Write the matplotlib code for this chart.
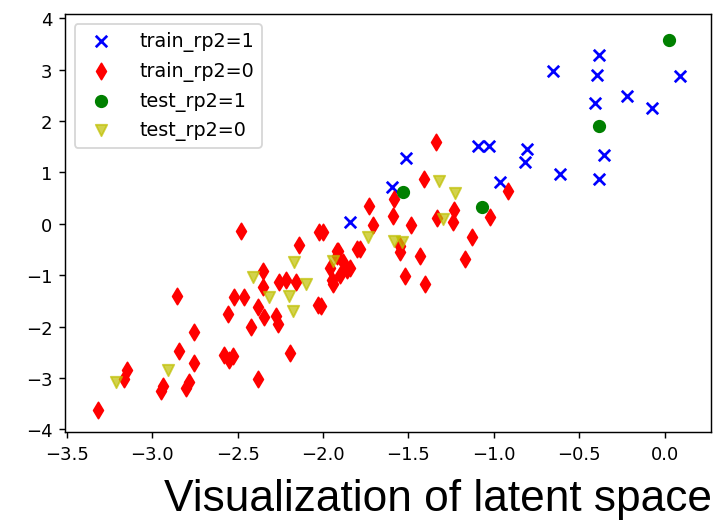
import matplotlib
matplotlib.use("Agg")
import matplotlib.pyplot as plt

# latent coordinates
train1_x = [-0.654, -0.385, -0.397, -0.409, -0.222, -0.076, 0.088, -0.356, -0.385,
            -0.613, -0.806, -0.818, -1.512, -1.09, -1.03, -0.963, -1.84, -1.594]
train1_y = [2.97, 3.28, 2.89, 2.35, 2.49, 2.25, 2.87, 1.34, 0.87,
            0.97, 1.46, 1.20, 1.28, 1.51, 1.51, 0.82, 0.04, 0.72]

train0_x = [-1.337, -1.407, -1.582, -1.728, -1.588, -1.483, -1.705, -1.232, -1.331,
            -1.238, -0.917, -1.022, -1.127, -1.168, -1.43, -2.00, -1.786, -1.91,
            -1.547, -1.518, -1.401, -1.80, -1.92, -1.88, -1.86, -1.90, -1.95,
            -1.84, -1.96, -2.01, -2.481, -2.026, -2.14, -1.915, -2.353, -2.26,
            -2.218, -2.16, -2.353, -1.944, -2.52, -2.464, -2.38, -2.557, -2.347,
            -2.03, -2.277, -2.265, -2.42, -2.755, -2.855, -2.843, -2.755, -2.58,
            -2.528, -2.55, -2.38, -3.146, -3.164, -2.936, -2.948, -2.785, -2.80,
            -3.316, -2.195, -1.547]
train0_y = [1.59, 0.87, 0.49, 0.35, 0.16, -0.02, -0.02, 0.27, 0.12,
            0.04, 0.64, 0.14, -0.25, -0.68, -0.62, -0.16, -0.49, -0.52,
            -0.43, -1.01, -1.17, -0.49, -0.62, -0.75, -0.90, -1.00, -1.10,
            -0.85, -0.85, -1.59, -0.14, -0.16, -0.42, -0.52, -0.91, -1.13,
            -1.10, -1.13, -1.22, -1.17, -1.42, -1.42, -1.61, -1.75, -1.81,
            -1.57, -1.79, -1.94, -2.00, -2.10, -1.40, -2.47, -2.70, -2.56,
            -2.58, -2.64, -3.01, -2.85, -3.01, -3.16, -3.26, -3.07, -3.20,
            -3.63, -2.52, -0.54]

test1_x = [0.023, -0.385, -1.53, -1.068]
test1_y = [3.57, 1.90, 0.62, 0.32]

test0_x = [-1.319, -1.226, -1.30, -1.734, -1.582, -1.535, -1.944, -2.172, -2.41,
           -2.10, -2.318, -2.20, -2.178, -3.21, -2.907]
test0_y = [0.83, 0.60, 0.10, -0.25, -0.33, -0.35, -0.72, -0.74, -1.03,
           -1.17, -1.42, -1.40, -1.69, -3.07, -2.85]

fig = plt.figure(figsize=(5.5, 4.015), dpi=130)
ax = fig.add_axes([0.091, 0.1705, 0.903, 0.8005])

ax.scatter(train1_x, train1_y, c="b", marker="x", s=40, label="train_rp2=1")
ax.scatter(train0_x, train0_y, c="r", marker="d", s=40, label="train_rp2=0")
ax.scatter(test1_x, test1_y, c="g", marker="o", s=40, label="test_rp2=1")
ax.scatter(test0_x, test0_y, c="y", marker="v", s=40, alpha=0.7, label="test_rp2=0")

ax.set_xlim(-3.51, 0.27)
ax.set_ylim(-4.05, 4.08)
ax.set_xticks([-3.5, -3.0, -2.5, -2.0, -1.5, -1.0, -0.5, 0.0])
ax.set_yticks([-4, -3, -2, -1, 0, 1, 2, 3, 4])
ax.legend(loc="upper left", fontsize=10.6, handletextpad=1.0)

fig.text(0.613, 0.021, "Visualization of latent space", ha="center", va="baseline",
         family="Liberation Sans", fontsize=24.5)

fig.savefig("out.png", dpi=130)
